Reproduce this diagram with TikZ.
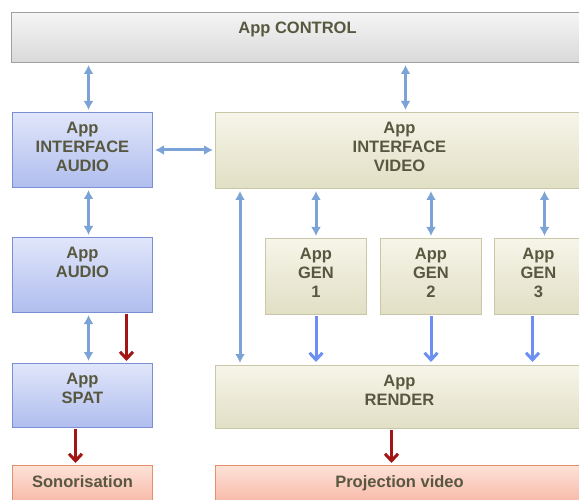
\documentclass[tikz,border=0pt]{standalone}
\usepackage{fontspec}
\setmainfont{Liberation Sans}
\usetikzlibrary{arrows.meta}

\definecolor{txtgrey}{HTML}{58573F}
\definecolor{dblblue}{HTML}{7BA3D6}
\definecolor{flowblue}{HTML}{6E8FF2}
\definecolor{flowred}{HTML}{A31515}

\begin{document}
\begin{tikzpicture}[x=1pt,y=-1pt]

\tikzstyle{box}=[draw, line width=1pt, anchor=north west, inner sep=0pt]
\tikzstyle{grey_box}=[box, top color=gray!8, bottom color=gray!30, draw=gray!75]
\tikzstyle{blue_box}=[box, top color={rgb,255:red,224;green,230;blue,250}, bottom color={rgb,255:red,176;green,189;blue,238}, draw={rgb,255:red,123;green,143;blue,214}]
\tikzstyle{beige_box}=[box, top color={rgb,255:red,246;green,245;blue,233}, bottom color={rgb,255:red,225;green,223;blue,196}, draw={rgb,255:red,201;green,199;blue,168}]
\tikzstyle{red_box}=[box, top color={rgb,255:red,253;green,226;blue,216}, bottom color={rgb,255:red,246;green,170;blue,150}, draw={rgb,255:red,229;green,142;blue,108}]
\tikzstyle{txt}=[anchor=north, yshift=-10pt, inner sep=0pt, align=center, text=txtgrey, font=\fontsize{16.5}{19}\selectfont\bfseries]
\tikzstyle{dblarrow}=[{Latex[length=9pt,width=10pt]}-{Latex[length=9pt,width=10pt]}, line width=3pt, dblblue, shorten <=2pt, shorten >=2pt]
\tikzstyle{bluearrow}=[-{Straight Barb[length=7pt,width=13pt]}, line width=3pt, flowblue, shorten <=1pt, shorten >=3pt]
\tikzstyle{redarrow}=[-{Straight Barb[length=7pt,width=13pt]}, line width=3pt, flowred, shorten <=1pt, shorten >=2pt]

\useasboundingbox (0,0) rectangle (579,500);
\clip (0,0) rectangle (579,500);

\node [grey_box, minimum width=572pt, minimum height=50pt, label={[txt]north:App CONTROL}] (app_control) at (11,12) {};

\node [blue_box, minimum width=140pt, minimum height=75pt, label={[txt]north:App\\INTERFACE\\AUDIO}] (interface_audio) at (12,112) {};
\node [beige_box, minimum width=368pt, minimum height=76pt, label={[txt]north:App\\INTERFACE\\VIDEO}] (interface_video) at (215,112) {};

\node [blue_box, minimum width=140pt, minimum height=75pt, label={[txt]north:App\\AUDIO}] (app_audio) at (12,237) {};
\node [beige_box, minimum width=101pt, minimum height=76pt, label={[txt]north:App\\GEN\\1}] (gen1) at (265,238) {};
\node [beige_box, minimum width=101pt, minimum height=76pt, label={[txt]north:App\\GEN\\2}] (gen2) at (380,238) {};
\node [beige_box, minimum width=88pt, minimum height=76pt, label={[txt]north:App\\GEN\\3}] (gen3) at (494,238) {};

\node [blue_box, minimum width=140pt, minimum height=64pt, label={[txt]north:App\\SPAT}] (app_spat) at (12,363) {};
\node [beige_box, minimum width=368pt, minimum height=63pt, label={[txt]north:App\\RENDER}] (app_render) at (215,365) {};

\node [red_box, minimum width=140pt, minimum height=50pt, label={[txt]north:Sonorisation}] (sonorisation) at (12,465) {};
\node [red_box, minimum width=368pt, minimum height=50pt, label={[txt]north:Projection video}] (projection) at (215,465) {};

\draw[dblarrow] ([xshift=6pt]interface_audio.north |- app_control.south) -- ([xshift=6pt]interface_audio.north);
\draw[dblarrow] ([xshift=6pt]interface_video.north |- app_control.south) -- ([xshift=6pt]interface_video.north);
\draw[dblarrow] (interface_audio.east) -- (interface_audio.east -| interface_video.west);
\draw[dblarrow] ([xshift=6pt]interface_audio.south) -- ([xshift=6pt]app_audio.north);
\draw[dblarrow] ([xshift=6pt]app_audio.south) -- ([xshift=6pt]app_spat.north);
\draw[dblarrow] ([xshift=25pt]interface_video.south west) -- ([xshift=25pt]app_render.north west);

\draw[dblarrow] (gen1.north |- interface_video.south) -- (gen1.north);
\draw[dblarrow] (gen2.north |- interface_video.south) -- (gen2.north);
\draw[dblarrow] ([xshift=6pt]gen3.north |- interface_video.south) -- ([xshift=6pt]gen3.north);

\draw[bluearrow] (gen1.south) -- (gen1.south |- app_render.north);
\draw[bluearrow] (gen2.south) -- (gen2.south |- app_render.north);
\draw[bluearrow] ([xshift=-6pt]gen3.south) -- ([xshift=-6pt]gen3.south |- app_render.north);

\draw[redarrow] ([xshift=44pt]app_audio.south) -- ([xshift=44pt]app_spat.north);
\draw[redarrow] ([xshift=-7pt]app_spat.south) -- ([xshift=-7pt]sonorisation.north);
\draw[redarrow] ([xshift=-8pt]app_render.south) -- ([xshift=-8pt]projection.north);

\end{tikzpicture}
\end{document}
